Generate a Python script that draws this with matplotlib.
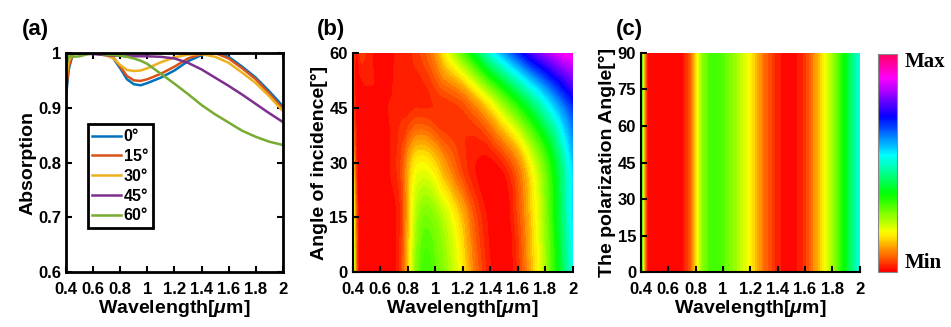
import numpy as np
import matplotlib.pyplot as plt
import matplotlib.tri as mtri
from matplotlib.colors import ListedColormap, Normalize
from matplotlib.cm import ScalarMappable

plt.rcParams['font.family'] = 'Liberation Sans'
plt.rcParams['font.weight'] = 'bold'
plt.rcParams['mathtext.fontset'] = 'custom'
plt.rcParams['mathtext.it'] = 'Liberation Sans:italic:bold'

# wavelength grid (um) and absorption curves
wl = [0.40, 0.42, 0.45, 0.50, 0.60, 0.70, 0.75, 0.80, 0.85, 0.90, 0.95,
      1.00, 1.10, 1.20, 1.30, 1.40, 1.50, 1.60, 1.70, 1.80, 1.90, 2.00]
abs_0 = [0.920, 0.970, 0.998, 1.000, 1.000, 0.998, 0.990, 0.972, 0.952, 0.943, 0.941,
         0.945, 0.955, 0.968, 0.985, 0.996, 1.000, 0.993, 0.975, 0.955, 0.930, 0.903]
abs_15 = [0.930, 0.975, 0.998, 1.000, 1.000, 0.998, 0.992, 0.975, 0.958, 0.950, 0.949,
          0.952, 0.962, 0.975, 0.990, 0.998, 1.000, 0.990, 0.972, 0.952, 0.926, 0.898]
abs_30 = [0.950, 0.985, 1.000, 1.000, 1.000, 0.995, 0.990, 0.978, 0.969, 0.967, 0.968,
          0.972, 0.983, 0.992, 0.997, 0.998, 0.993, 0.982, 0.964, 0.945, 0.921, 0.894]
abs_45 = [0.980, 0.995, 1.000, 0.999, 0.998, 0.996, 0.995, 0.995, 0.994, 0.994, 0.994,
          0.994, 0.993, 0.990, 0.982, 0.970, 0.955, 0.940, 0.924, 0.907, 0.890, 0.874]
abs_60 = [0.975, 0.995, 0.993, 0.994, 1.000, 0.997, 0.996, 0.995, 0.993, 0.990, 0.986,
          0.980, 0.962, 0.944, 0.925, 0.905, 0.888, 0.873, 0.858, 0.847, 0.838, 0.832]
angles = [0, 15, 30, 45, 60]
angle_labels = ['0°', '15°', '30°', '45°', '60°']
pol_angles = [0, 15, 30, 45, 60, 75, 90]
wl_ticks = [0.4, 0.6, 0.8, 1, 1.2, 1.4, 1.6, 1.8, 2]
wl_ticklabels = ['0.4', '0.6', '0.8', '1', '1.2', '1.4', '1.6', '1.8', '2']

colors = ['#0072BD', '#D95319', '#EDB120', '#7E2F8E', '#77AC30']
curves = [abs_0, abs_15, abs_30, abs_45, abs_60]

hsv = plt.get_cmap('hsv')
cmap_bar = ListedColormap(hsv(np.linspace(0, 0.95, 256)))
cmap_map = ListedColormap(hsv(np.linspace(0.9, 0, 256)))
vmin, vmax = 0.825, 1.0
levels = np.linspace(vmin, vmax, 60)

fig = plt.figure(figsize=(9.51, 3.27), dpi=100)
ax1 = fig.add_axes([0.0694, 0.168, 0.228, 0.670])
ax2 = fig.add_axes([0.371, 0.168, 0.231, 0.670])
ax3 = fig.add_axes([0.674, 0.168, 0.230, 0.670])
cax = fig.add_axes([0.923, 0.168, 0.020, 0.667])

tick_kw = dict(direction='in', labelsize=12, width=1.5, length=4)

# (a)
for c, lab, col in zip(curves, angle_labels, colors):
    ax1.plot(wl, c, color=col, lw=1.8, label=lab)
ax1.set_ylim(0.6, 1)
ax1.set_yticks([0.6, 0.7, 0.8, 0.9, 1])
ax1.set_yticklabels(['0.6', '0.7', '0.8', '0.9', '1'])
ax1.tick_params(top=True, right=True, **tick_kw)
for s in ax1.spines.values():
    s.set_linewidth(2)
ax1.set_ylabel('Absorption', fontsize=14, fontweight='bold', labelpad=1)
leg = ax1.legend(loc='lower left', bbox_to_anchor=(0.10, 0.20), fontsize=11.5,
                 handlelength=1.8, labelspacing=0.3, handletextpad=0.15,
                 borderpad=0.3, fancybox=False, framealpha=1, edgecolor='black',
                 borderaxespad=0)
leg.get_frame().set_linewidth(2)
for t in leg.get_texts():
    t.set_fontweight('bold')

# (b) smooth map through the five measured angles
W, A = np.meshgrid(wl, angles)
tri = mtri.Triangulation(W.ravel(), A.ravel() / 37.5)
interp = mtri.CubicTriInterpolator(tri, np.array(curves).ravel(), kind='geom')
wf, af = np.meshgrid(np.linspace(0.4, 2, 300), np.linspace(0, 60, 200))
Zf = interp(wf, af / 37.5)
ax2.contourf(wf, af, np.clip(Zf, vmin, vmax), levels=levels, cmap=cmap_map,
             vmin=vmin, vmax=vmax, extend='both')
ax2.set_ylim(0, 60)
ax2.set_yticks(angles)
ax2.set_ylabel('Angle of incidence[°]', fontsize=14, fontweight='bold', labelpad=1)

# (c) polarization independent: each row is the normal incidence curve
Z3 = np.array([abs_0 for _ in pol_angles])
ax3.contourf(wl, pol_angles, Z3, levels=levels, cmap=cmap_map,
             vmin=vmin, vmax=vmax, extend='both')
ax3.set_ylim(0, 90)
ax3.set_yticks(pol_angles)
ax3.set_ylabel('The polarization Angle[°]', fontsize=14, fontweight='bold', labelpad=1)

for ax in (ax2, ax3):
    ax.tick_params(**tick_kw)
    ax.spines['top'].set_visible(False)
    ax.spines['right'].set_visible(False)
    ax.spines['left'].set_linewidth(1.5)
    ax.spines['bottom'].set_linewidth(1.5)

for ax in (ax1, ax2, ax3):
    ax.set_xlim(0.4, 2)
    ax.set_xticks(wl_ticks)
    ax.set_xticklabels(wl_ticklabels)
    ax.tick_params(axis='x', pad=7)
    ax.set_xlabel(r'Wavelength[$\mu$m]', fontsize=14, fontweight='bold', labelpad=1)

# colorbar
cb = fig.colorbar(ScalarMappable(norm=Normalize(0, 1), cmap=cmap_bar), cax=cax)
cb.set_ticks([])
cb.outline.set_linewidth(0.8)
cb.outline.set_edgecolor('#888888')
fig.text(0.951, 0.81, 'Max', fontsize=15, fontweight='bold', family='Liberation Serif',
         va='center', ha='left')
fig.text(0.951, 0.195, 'Min', fontsize=15, fontweight='bold', family='Liberation Serif',
         va='center', ha='left')

# panel labels
for x, lab in [(0.023, '(a)'), (0.333, '(b)'), (0.648, '(c)')]:
    fig.text(x, 0.91, lab, fontsize=16, fontweight='bold', va='center')

fig.savefig('out.png', dpi=100)
